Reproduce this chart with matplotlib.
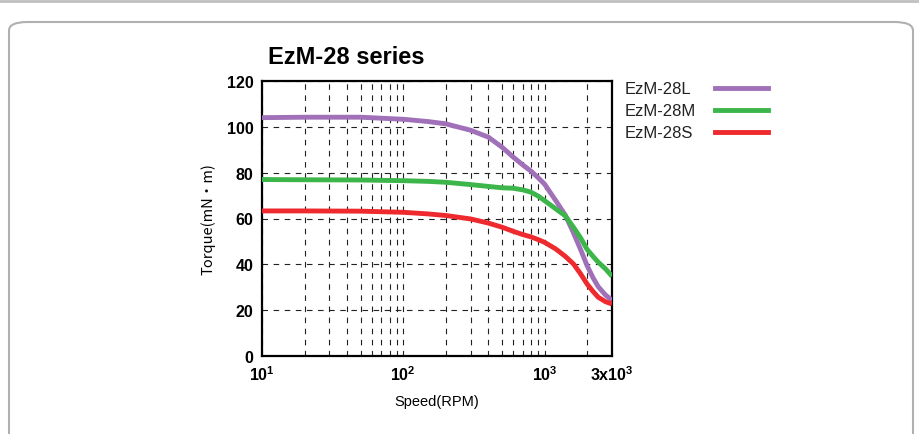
import matplotlib.pyplot as plt
from matplotlib.patches import FancyBboxPatch
from matplotlib.ticker import FixedLocator, NullFormatter

plt.rcParams['font.family'] = ['Liberation Sans', 'DejaVu Sans']
plt.rcParams['mathtext.fontset'] = 'custom'
plt.rcParams['mathtext.rm'] = 'Liberation Sans'
plt.rcParams['mathtext.bf'] = 'Liberation Sans:bold'

speed = [10, 20, 50, 100, 150, 200, 300, 400, 500, 600, 700, 800, 900, 1000, 1200, 1400, 1600, 1800, 2000, 2200, 2400, 2700, 3000]
torque_L = [104, 104.2, 104.2, 103.3, 102.3, 101.3, 98.5, 95.5, 91.1, 86.8, 83.4, 80.7, 77.8, 75, 67.8, 61.5, 53.8, 46.4, 39.4, 34.2, 30.2, 26.6, 24.3]
torque_M = [77, 76.9, 76.8, 76.5, 76.2, 75.8, 74.8, 74, 73.4, 73.2, 72.5, 71.5, 69.8, 67.8, 64.2, 61.2, 56.2, 51.5, 46.5, 43.5, 40.9, 38, 34.8]
torque_S = [63.3, 63.3, 63.2, 62.7, 62, 61.3, 59.8, 58, 56.2, 54.4, 53, 52, 50.8, 49.6, 46.7, 43.5, 40.2, 35.8, 31.4, 28.2, 25.6, 23.7, 22.7]

names = ['EzM-28L', 'EzM-28M', 'EzM-28S']
colors = ['#a070b8', '#3cb54a', '#ee2a2e']
xtick_labels = [r'$\mathbf{10^1}$', r'$\mathbf{10^2}$', r'$\mathbf{10^3}$', r'$\mathbf{3x10^3}$']

fig = plt.figure(figsize=(9.2, 4.35), dpi=100)
ax = fig.add_axes([262/920, 1-357/435, 350/920, 275/435])

# rounded panel border
fig.patches.append(FancyBboxPatch((9/920, -20/435), 904/920, 452/435 - 20/435,
    boxstyle='round,pad=0,rounding_size=0.02', transform=fig.transFigure,
    fill=False, edgecolor='#b0b0b0', linewidth=1.5))
fig.add_artist(plt.Line2D([0, 1], [433/435, 433/435], color='#c0c0c0', linewidth=2))

for y, n, c in zip([torque_L, torque_M, torque_S], names, colors):
    ax.plot(speed, y, color=c, linewidth=3.5, solid_capstyle='butt', label=n, zorder=3)

ax.set_xscale('log')
ax.set_xlim(10, 3000)
ax.set_ylim(0, 120)
ax.xaxis.set_major_locator(FixedLocator([10, 100, 1000, 3000]))
ax.set_xticklabels(xtick_labels)
minor = [m * d for d in [10, 100, 1000] for m in range(2, 10) if m * d < 3000]
ax.xaxis.set_minor_locator(FixedLocator(minor))
ax.xaxis.set_minor_formatter(NullFormatter())
ax.set_yticks([0, 20, 40, 60, 80, 100, 120])
ax.tick_params(axis='both', which='both', length=0, labelsize=11.5, pad=6)
for lab in ax.get_yticklabels():
    lab.set_fontweight('bold')
ax.grid(True, which='both', axis='x', linestyle=(0, (5, 5)), color='#222222', linewidth=0.8)
ax.grid(True, which='major', axis='y', linestyle=(0, (5, 5)), color='#222222', linewidth=0.8)
for s in ax.spines.values():
    s.set_linewidth(1.6)

ax.set_xlabel('Speed(RPM)', fontsize=10.5, labelpad=8)
ax.set_ylabel('Torque(mN・m)', fontsize=10.5, labelpad=8,
              fontfamily=['Noto Sans CJK JP', 'Liberation Sans'])
fig.text(268/920, 1-57/435, 'EzM-28 series', fontsize=17, fontweight='bold', va='center')

# legend: labels left, line samples right
for i, (n, c) in enumerate(zip(names, colors)):
    yy = 1 - (89 + i * 22) / 435
    fig.text(625/920, yy, n, fontsize=12, va='center', color='#222222')
    fig.add_artist(plt.Line2D([715/920, 768/920], [yy, yy], color=c, linewidth=3.5))

fig.savefig('out.png', dpi=100)
